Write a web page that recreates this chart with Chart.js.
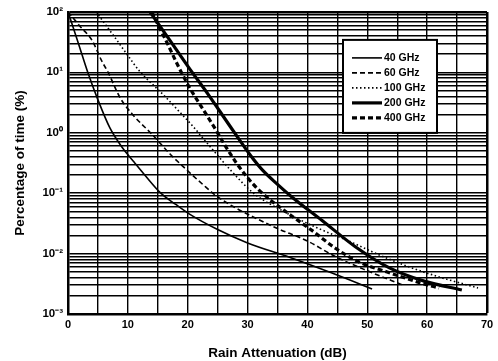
<!DOCTYPE html>
<html>
<head>
<meta charset="utf-8">
<script src="https://cdn.jsdelivr.net/npm/chart.js@4.4.1/dist/chart.umd.min.js"></script>
<style>
  body { margin: 0; background: #fff; }
</style>
</head>
<body>
<canvas id="chart" width="498" height="361"></canvas>
<script>
// rain attenuation (dB) against percentage of time
let seriesNames = ["40 GHz", "60 GHz", "100 GHz", "200 GHz", "400 GHz"];

let att40 = [0, 1.7, 3.3, 5, 7, 9, 11, 13, 15.5, 18, 20.3, 25, 30, 37, 44, 50.8];
let pct40 = [100, 31, 10, 3.5, 1.2, 0.58, 0.33, 0.19, 0.1, 0.065, 0.045, 0.025, 0.015, 0.0087, 0.0048, 0.0026];

let att60 = [0, 2, 4, 5.7, 6.7, 8.7, 11, 14, 17, 20.3, 22.5, 24.8, 28, 31.5, 35, 39.8, 44.8, 50, 56];
let pct60 = [100, 58, 34, 15, 10, 3.8, 1.9, 0.95, 0.45, 0.22, 0.14, 0.09, 0.057, 0.038, 0.026, 0.0165, 0.0088, 0.0052, 0.003];

let att100 = [4.7, 7.5, 10, 12, 14, 16.3, 18.3, 20.8, 24, 27, 31, 36, 41.5, 47, 52, 57, 62, 68.5];
let pct100 = [100, 42, 19, 10.3, 6.5, 3.9, 2.4, 1.3, 0.55, 0.25, 0.1, 0.05, 0.027, 0.016, 0.0095, 0.006, 0.0041, 0.0027];

let att200 = [13.7, 17, 20.3, 23.5, 26.5, 28.5, 30.5, 32.5, 35, 37.5, 42.5, 48, 53.7, 59.5, 65.8];
let pct200 = [100, 34, 11.5, 4.2, 1.55, 0.8, 0.42, 0.24, 0.14, 0.085, 0.035, 0.013, 0.0058, 0.0035, 0.0025];

let att400 = [14, 14.8, 16.7, 18.2, 20.3, 22.5, 24.5, 26.3, 28, 30, 32, 36.2, 40.8, 44.8, 48.7, 53.2, 59.2, 62];
let pct400 = [100, 68.5, 28.7, 14, 5.6, 2.5, 1.2, 0.6, 0.33, 0.18, 0.11, 0.051, 0.024, 0.012, 0.0072, 0.005, 0.0032, 0.0027];

let xTicks = [0, 10, 20, 30, 40, 50, 60, 70];
let yDecades = [0.001, 0.01, 0.1, 1, 10, 100];
let yLabels = ["10\u207B\u00B3", "10\u207B\u00B2", "10\u207B\u00B9", "10\u2070", "10\u00B9", "10\u00B2"];

function toPoints(xs, ys) {
    let pts = [];
    for (let i = 0; i < xs.length; i++) {
        pts.push({x: xs[i], y: ys[i]});
    }
    return pts;
}

// log grid: 1..9 in every decade
let yGrid = [];
for (let d = 0; d < yDecades.length; d++) {
    yGrid.push(yDecades[d]);
    if (d < yDecades.length - 1) {
        for (let k = 2; k <= 9; k++) yGrid.push(yDecades[d] * k);
    }
}

let legendBox = {
    id: "legendBox",
    afterDraw(chart) {
        let ctx = chart.ctx;
        let area = chart.chartArea;
        let left = area.right - 144, top = area.top + 28, w = 94, h = 93;
        ctx.save();
        ctx.fillStyle = "#fff";
        ctx.fillRect(left, top, w, h);
        ctx.strokeStyle = "#000";
        ctx.lineWidth = 2;
        ctx.strokeRect(left, top, w, h);
        ctx.font = "bold 10.5px 'Liberation Sans', Arial, sans-serif";
        ctx.textBaseline = "middle";
        ctx.fillStyle = "#000";
        chart.data.datasets.forEach(function (ds, i) {
            let y = top + 18 + i * 15;
            ctx.beginPath();
            ctx.setLineDash(ds.borderDash || []);
            ctx.lineWidth = ds.borderWidth;
            ctx.moveTo(left + 9, y);
            ctx.lineTo(left + 39, y);
            ctx.stroke();
            ctx.setLineDash([]);
            ctx.fillText(ds.label, left + 41, y + 0.5);
        });
        ctx.restore();
    }
};

let chart = new Chart(document.getElementById("chart"), {
    type: "scatter",
    data: {
        datasets: [
            {label: seriesNames[0], data: toPoints(att40, pct40), borderWidth: 1.6, borderDash: []},
            {label: seriesNames[1], data: toPoints(att60, pct60), borderWidth: 1.6, borderDash: [5, 3]},
            {label: seriesNames[2], data: toPoints(att100, pct100), borderWidth: 1.6, borderDash: [1.5, 2.5]},
            {label: seriesNames[3], data: toPoints(att200, pct200), borderWidth: 3.2, borderDash: []},
            {label: seriesNames[4], data: toPoints(att400, pct400), borderWidth: 3.2, borderDash: [5, 3]}
        ].map(function (ds) {
            ds.showLine = true;
            ds.borderColor = "#000";
            ds.backgroundColor = "#000";
            ds.pointRadius = 0;
            ds.fill = false;
            ds.cubicInterpolationMode = "monotone";
            return ds;
        })
    },
    options: {
        responsive: false,
        animation: false,
        layout: {padding: {top: 10, right: 11, left: 0, bottom: 0}},
        plugins: {legend: {display: false}, tooltip: {enabled: false}},
        scales: {
            x: {
                type: "linear",
                min: 0,
                max: 70,
                afterFit: function (scale) { scale.height = 47; },
                ticks: {
                    stepSize: 5,
                    autoSkip: false,
                    maxRotation: 0,
                    padding: 4,
                    color: "#000",
                    font: {family: "'Liberation Sans', Arial", size: 11, weight: "bold"},
                    callback: function (v) { return xTicks.indexOf(v) >= 0 ? String(v) : ""; }
                },
                grid: {
                    color: "#000",
                    drawTicks: false,
                    lineWidth: function (c) { return c.tick && c.tick.value === 70 ? 2.5 : 1.4; }
                },
                border: {color: "#000", width: 2.5},
                title: {
                    display: true,
                    text: "Rain Attenuation (dB)",
                    color: "#000",
                    font: {family: "'Liberation Sans', Arial", size: 13.5, weight: "bold"},
                    padding: {top: 8, bottom: 0}
                }
            },
            y: {
                type: "logarithmic",
                min: 0.001,
                max: 100,
                afterFit: function (scale) { scale.width = 68; },
                afterBuildTicks: function (scale) {
                    scale.ticks = yGrid.map(function (v) { return {value: v}; });
                },
                ticks: {
                    autoSkip: false,
                    padding: 5,
                    color: "#000",
                    font: {family: "'Liberation Sans', Arial", size: 11.5, weight: "bold"},
                    callback: function (v) {
                        for (let i = 0; i < yDecades.length; i++) {
                            if (Math.abs(v / yDecades[i] - 1) < 1e-6) return yLabels[i];
                        }
                        return "";
                    }
                },
                grid: {
                    color: "#000",
                    drawTicks: false,
                    lineWidth: function (c) { return c.tick && Math.abs(c.tick.value - 100) < 1e-6 ? 2.5 : 1.4; }
                },
                border: {color: "#000", width: 2.5},
                title: {
                    display: true,
                    text: "Percentage of time (%)",
                    color: "#000",
                    font: {family: "'Liberation Sans', Arial", size: 13.5, weight: "bold"},
                    padding: {top: 12, bottom: 0}
                }
            }
        }
    },
    plugins: [legendBox]
});
</script>
</body>
</html>
